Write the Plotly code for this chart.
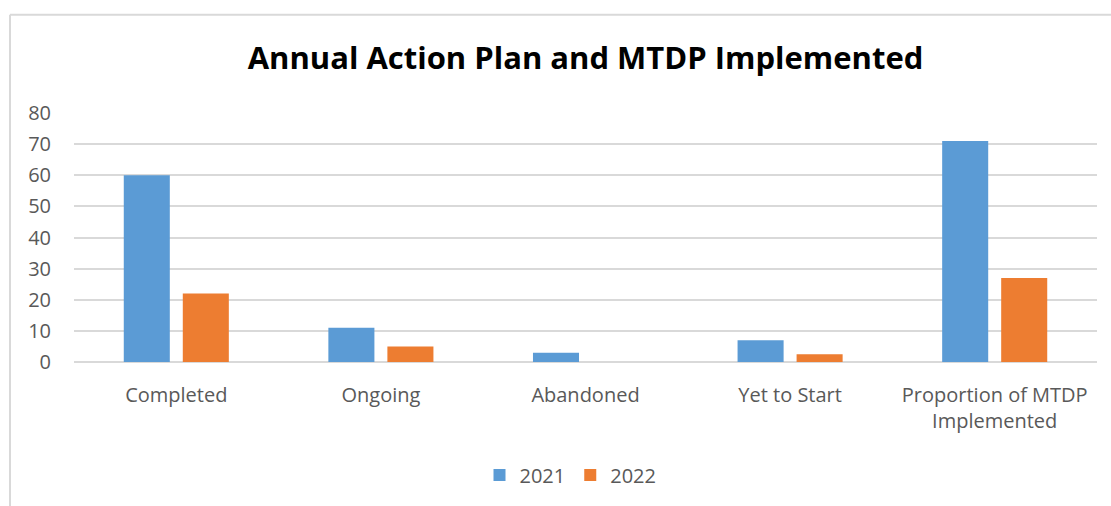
import plotly.graph_objects as go

categories = ["Completed", "Ongoing", "Abandoned", "Yet to Start", "Proportion of MTDP<br>Implemented"]
values_2021 = [60, 11, 3, 7, 71]
values_2022 = [22, 5, 0, 2.5, 27]
series_names = ["2021", "2022"]
colors = ["#5B9BD5", "#ED7D31"]

W, H = 1111, 506
L, R, T, B = 74, 14, 113, 142
pw = W - L - R
ph = H - T - B
FONT = "'Open Sans', Lato, sans-serif"

fig = go.Figure()
for name, vals, c in zip(series_names, [values_2021, values_2022], colors):
    fig.add_trace(go.Bar(x=categories, y=vals, name=name, marker=dict(color=c, line=dict(width=0))))

grid = "#D9D9D9"
fig.update_layout(
    width=W, height=H,
    margin=dict(l=L, r=R, t=T, b=B),
    paper_bgcolor="white", plot_bgcolor="white",
    barmode="group", bargap=0.423, bargroupgap=0.22,
    font=dict(family=FONT, color="#595959", size=20),
    title=dict(text="<b>Annual Action Plan and MTDP Implemented</b>",
               x=0.5, xref="paper", xanchor="center", y=1 - 58 / H, yanchor="middle",
               font=dict(size=31, color="#000000", family=FONT)),
    xaxis=dict(showgrid=False, showline=False, ticks="", tickfont=dict(size=20),
               ticklabelstandoff=19),
    yaxis=dict(range=[0, 80], dtick=10, showgrid=True, gridcolor=grid, gridwidth=2,
               zeroline=True, zerolinecolor=grid, zerolinewidth=2, showline=False,
               ticks="", tickfont=dict(size=20), ticklabelstandoff=22),
    legend=dict(orientation="h", x=0.5 - 15 / pw, xanchor="center", y=(H - B - 478) / ph, yanchor="middle",
                xref="paper", font=dict(size=20), itemwidth=30, traceorder="normal"),
    shapes=[
        dict(type="line", xref="paper", yref="paper",
             x0=(10 - L) / pw, x1=(W + 5 - L) / pw, y0=(H - B - 14) / ph, y1=(H - B - 14) / ph,
             line=dict(color=grid, width=2)),
        dict(type="line", xref="paper", yref="paper",
             x0=(10 - L) / pw, x1=(10 - L) / pw, y0=(H - B - 14) / ph, y1=(H - B - H - 10) / ph,
             line=dict(color=grid, width=2)),
    ],
)
fig.write_html("out.html", config={"displayModeBar": False},
               post_script="document.body.style.margin='0';document.body.style.overflow='hidden';")
